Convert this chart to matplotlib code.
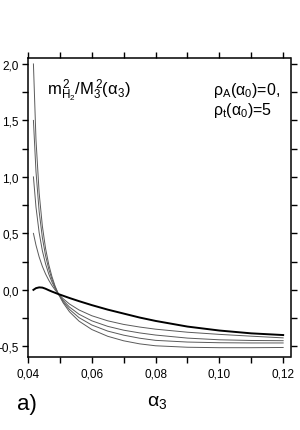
import matplotlib
matplotlib.use("Agg")
import matplotlib.pyplot as plt
from matplotlib.ticker import MultipleLocator, FuncFormatter

plt.rcParams['font.family'] = ['Liberation Sans', 'DejaVu Sans']
plt.rcParams['mathtext.fontset'] = 'custom'
plt.rcParams['mathtext.rm'] = 'Liberation Sans'
plt.rcParams['mathtext.it'] = 'Liberation Sans:italic'
plt.rcParams['mathtext.bf'] = 'Liberation Sans:bold'

# data
alpha3 = [0.0417, 0.0425, 0.0435, 0.0445, 0.0455, 0.0465, 0.0475, 0.0485, 0.0495,
          0.051, 0.053, 0.056, 0.060, 0.065, 0.070, 0.075, 0.080, 0.090, 0.100, 0.110, 0.120]

thick_curve = [0.0, 0.015, 0.022, 0.020, 0.010, -0.003, -0.015, -0.026, -0.037,
               -0.052, -0.072, -0.100, -0.135, -0.175, -0.21, -0.245, -0.275, -0.325, -0.36, -0.385, -0.40]

curve_05 = [0.5, 0.396, 0.291, 0.208, 0.141, 0.086, 0.039, -0.001, -0.035,
            -0.078, -0.125, -0.178, -0.229, -0.274, -0.306, -0.329, -0.348, -0.375, -0.394, -0.41, -0.425]
curve_10 = [1.0, 0.733, 0.506, 0.347, 0.231, 0.141, 0.070, 0.013, -0.035,
            -0.092, -0.152, -0.216, -0.274, -0.323, -0.357, -0.381, -0.40, -0.427, -0.442, -0.448, -0.45]
curve_15 = [1.5, 1.048, 0.692, 0.463, 0.303, 0.185, 0.095, 0.024, -0.035,
            -0.103, -0.173, -0.246, -0.311, -0.365, -0.401, -0.428, -0.447, -0.462, -0.468, -0.47, -0.47]
curve_20 = [2.0, 1.33, 0.856, 0.565, 0.368, 0.225, 0.118, 0.033, -0.035,
            -0.114, -0.194, -0.277, -0.351, -0.411, -0.451, -0.478, -0.495, -0.508, -0.512, -0.512, -0.51]

thin_curves = [curve_05, curve_10, curve_15, curve_20]

fig = plt.figure(figsize=(3.0, 4.31), dpi=100)
ax = fig.add_axes([28/300, 1-358.3/431, 262.5/300, 299/431])

for c in thin_curves:
    ax.plot(alpha3, c, color='#5a5a5a', lw=0.7)
ax.plot(alpha3, thick_curve, color='black', lw=1.4)

ax.set_xlim(0.04, 0.1223)
ax.set_ylim(-0.597, 2.05)

ax.xaxis.set_major_locator(MultipleLocator(0.02))
ax.xaxis.set_minor_locator(MultipleLocator(0.01))
ax.yaxis.set_major_locator(MultipleLocator(0.5))
ax.yaxis.set_minor_locator(MultipleLocator(0.25))
ax.xaxis.set_major_formatter(FuncFormatter(lambda v, p: f"{v:.2f}".replace('.', ',')))
ax.yaxis.set_major_formatter(FuncFormatter(lambda v, p: f"{v:.1f}".replace('.', ',').replace('\u2212', '-')))

ax.tick_params(which='both', direction='out', top=True, right=True, length=4.5, width=1.0,
               labelsize=8.5, pad=2.5)
ax.tick_params(axis='y', pad=2)
for s in ax.spines.values():
    s.set_linewidth(1.1)

ax.text(0.071, 0.88, r'$\mathrm{m_{H_2}^{\,2}/M_3^{\,2}(\alpha_3)}$', transform=ax.transAxes,
        fontsize=12, ha='left', va='baseline')
ax.text(0.705, 0.88, r'$\mathrm{\rho_A(\alpha_0)}$=0,', transform=ax.transAxes,
        fontsize=11.5, ha='left', va='baseline')
ax.text(0.705, 0.814, r'$\mathrm{\rho_t(\alpha_0)}$=5', transform=ax.transAxes,
        fontsize=11.5, ha='left', va='baseline')

fig.text(17/300, 1-405/431, 'a)', fontsize=16, ha='left', va='center')
fig.text(147/300, 1-403/431, r'$\mathrm{\alpha_3}$', fontsize=14, ha='left', va='center')

fig.savefig('out.png', dpi=100)
